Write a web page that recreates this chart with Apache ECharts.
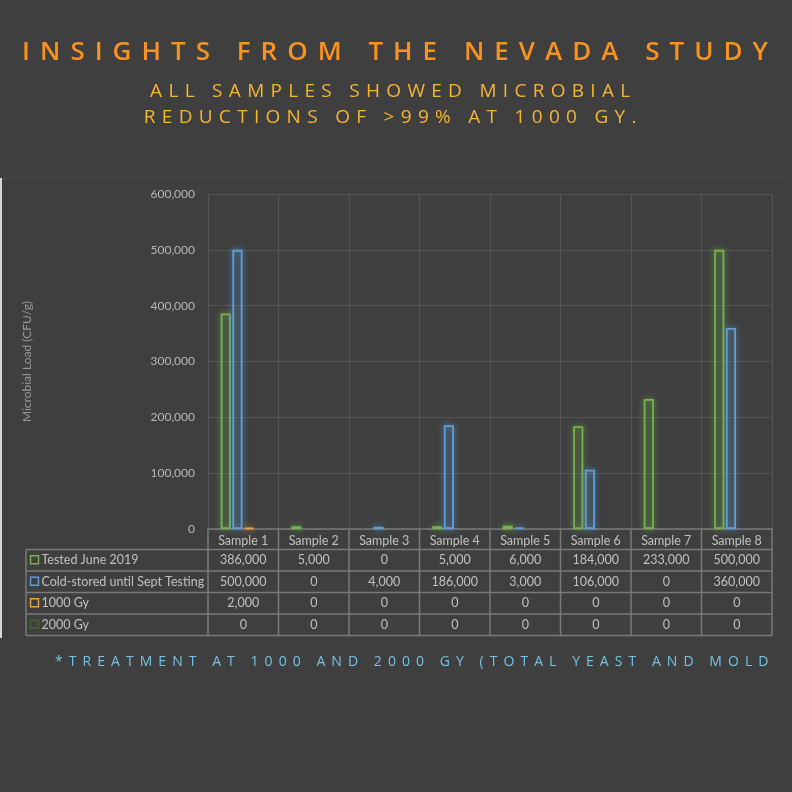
<!DOCTYPE html>
<html>
<head>
<meta charset="utf-8">
<script src="https://cdn.jsdelivr.net/npm/echarts@6/dist/echarts.min.js"></script>
<style>
  html, body { margin: 0; padding: 0; background: #3f3f3f; }
  #wrap { position: relative; width: 792px; height: 792px; overflow: hidden; }
  #chart { position: absolute; left: 0; top: 0; width: 792px; height: 792px; }
  .cap { position: absolute; left: 0; width: 792px; text-align: center; white-space: nowrap;
         font-family: "Open Sans", sans-serif; text-transform: uppercase; }
  #t1 { top: 32px; font-size: 26px; font-weight: 600; color: #f7931e; letter-spacing: 10px; padding-left: 4px; }
  #t2 { top: 77px; left: -9px; font-size: 19px; color: #f6b632; letter-spacing: 6.3px; padding-left: 6.3px; line-height: 26px; }
  #foot { top: 651px; left: 55px; width: auto; text-align: left; font-size: 14px; color: #74c3e6; letter-spacing: 6.05px; }
</style>
</head>
<body>
<div id="wrap">
  <div id="chart"></div>
  <div class="cap" id="t1">Insights from the Nevada Study</div>
  <div class="cap" id="t2">All samples showed microbial<br>reductions of &gt;99% at 1000 Gy.</div>
  <div class="cap" id="foot">*Treatment at 1000 and 2000 Gy (total yeast and mold</div>
</div>
<script>
// 数据
const categories = ['Sample 1', 'Sample 2', 'Sample 3', 'Sample 4', 'Sample 5', 'Sample 6', 'Sample 7', 'Sample 8'];
const seriesNames = ['Tested June 2019', 'Cold-stored until Sept Testing', '1000 Gy', '2000 Gy'];
const testedJune = [386000, 5000, 0, 5000, 6000, 184000, 233000, 500000];
const coldStored = [500000, 0, 4000, 186000, 3000, 106000, 0, 360000];
const gy1000 = [2000, 0, 0, 0, 0, 0, 0, 0];
const gy2000 = [0, 0, 0, 0, 0, 0, 0, 0];
const yMin = 0, yMax = 600000, yStep = 100000;

const seriesValues = [testedJune, coldStored, gy1000, gy2000];
const colors = ['#74b44a', '#5e9fda', '#eda33a', '#3f6a2a'];

const chart = echarts.init(document.getElementById('chart'));

const textColor = '#c0c0c0';
const gridColor = '#555555';
const tableColor = '#7a7a7a';

var option = {
  backgroundColor: '#3f3f3f',
  animation: false,
  grid: { left: 208, right: 20, top: 194, bottom: 263 },
  xAxis: {
    type: 'category',
    data: categories,
    axisTick: { show: false },
    axisLine: { show: true, lineStyle: { color: tableColor, width: 1.5 } },
    axisLabel: { color: textColor, fontSize: 12.5, fontFamily: 'Lato', margin: 5 },
    splitLine: { show: true, lineStyle: { color: gridColor, width: 1 } }
  },
  yAxis: {
    type: 'value',
    min: yMin,
    max: yMax,
    interval: yStep,
    name: 'Microbial Load (CFU/g)',
    nameLocation: 'middle',
    nameGap: 175,
    nameTextStyle: { color: '#9a9a9a', fontSize: 12, fontFamily: 'Lato' },
    axisLine: { show: false },
    axisTick: { show: false },
    axisLabel: {
      color: '#b8b8b8', fontSize: 12, fontFamily: 'Lato', margin: 13,
      formatter: function (v) { return v.toLocaleString('en-US'); }
    },
    splitLine: { lineStyle: { color: gridColor, width: 1 } }
  },
  series: seriesValues.map(function (vals, i) {
    return {
      name: seriesNames[i],
      type: 'bar',
      barCategoryGap: '36%',
      barGap: '15%',
      data: vals.map(function (v) { return v === 0 ? null : v; }),
      itemStyle: {
        color: 'rgba(0,0,0,0)',
        borderColor: colors[i],
        borderWidth: 1.8,
        shadowBlur: 6,
        shadowColor: colors[i]
      }
    };
  })
};
chart.setOption(option);

// 数据表
function buildTable() {
  const cx = categories.map(function (c, i) { return chart.convertToPixel({ xAxisIndex: 0 }, i); });
  const cw = cx[1] - cx[0];
  const left = cx[0] - cw / 2;
  const right = cx[cx.length - 1] + cw / 2;
  const y0 = chart.convertToPixel({ yAxisIndex: 0 }, 0);
  const headH = 20.5, rowH = 21.5;
  const labelLeft = 26;
  const rowTop = function (k) { return y0 + headH + k * rowH; };
  const bottom = rowTop(seriesNames.length);
  const els = [];
  const line = function (x1, y1, x2, y2, c, w) {
    els.push({ type: 'line', silent: true, shape: { x1: x1, y1: y1, x2: x2, y2: y2 },
      style: { stroke: c || tableColor, lineWidth: w || 1.5 } });
  };
  // 横线
  for (let k = 0; k <= seriesNames.length; k++) {
    line(labelLeft, rowTop(k), right, rowTop(k));
  }
  // 竖线
  for (let i = 0; i <= categories.length; i++) {
    const x = left + i * cw;
    line(x, y0, x, bottom);
  }
  line(labelLeft, rowTop(0), labelLeft, bottom);
  // 行
  seriesNames.forEach(function (name, k) {
    const yc = rowTop(k) + rowH / 2;
    els.push({ type: 'rect', silent: true, shape: { x: 30.5, y: yc - 4.5, width: 8, height: 8 },
      style: { fill: 'none', stroke: colors[k], lineWidth: 1.4 } });
    els.push({ type: 'text', silent: true, style: { text: name, x: 41.5, y: yc, fill: textColor,
      fontSize: 12.5, fontFamily: 'Lato', align: 'left', verticalAlign: 'middle',
      textAlign: 'left', textVerticalAlign: 'middle' } });
    seriesValues[k].forEach(function (v, i) {
      els.push({ type: 'text', silent: true, style: { text: v.toLocaleString('en-US'), x: cx[i], y: yc,
        fill: textColor, fontSize: 12.5, fontFamily: 'Lato', align: 'center', verticalAlign: 'middle',
        textAlign: 'center', textVerticalAlign: 'middle' } });
    });
  });
  // 面板边线
  line(0, 178, 785, 178, '#4b4b4b', 1);
  line(1, 178, 1, 638, '#d6d6d6', 2);
  chart.setOption({ graphic: els });
}
buildTable();
</script>
</body>
</html>
